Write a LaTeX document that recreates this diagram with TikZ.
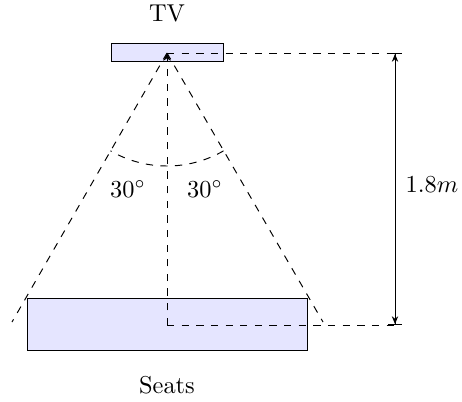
\documentclass[tikz,border=0pt]{standalone}
\usetikzlibrary{arrows.meta}
\begin{document}
\begin{tikzpicture}[x=0.41pt,y=-0.41pt,
  box/.style={draw, fill=blue!10, inner sep=0pt},
  guide/.style={dashed},
  lbl/.style={inner sep=0pt}]
\useasboundingbox (0,0) rectangle (462,401);
\node[box, minimum width=46.3pt, minimum height=7pt] (tv) at (167.5,52.5) {};
\coordinate (apex) at (167,53);
\coordinate (foot) at (167,325);
\coordinate (leftend) at (12,322);
\coordinate (rightend) at (323,322);
\coordinate (topend) at (398,53);
\coordinate (botend) at (398,325);
\coordinate (dimtop) at (395,53);
\coordinate (dimbot) at (395,325);
\draw[guide] (apex) -- (leftend);
\draw[guide] (apex) -- (rightend);
\draw[guide] (apex) -- (topend);
\draw[guide] (apex) ++(-60:46.33pt) arc[start angle=-60, end angle=-120, radius=46.33pt];
\node[box, minimum width=114.8pt, minimum height=21.7pt] (seats) at (167,324.5) {};
\draw[guide, -{Stealth[length=3.2pt,width=3pt]}] (foot) -- (apex);
\draw[guide] (foot) -- (botend);
\draw[{Bar[width=5.7pt]Stealth[length=3.2pt,width=2.6pt]}-{Stealth[length=3.2pt,width=2.6pt]Bar[width=5.7pt]}] (dimtop) -- (dimbot);
\node[lbl] (a1) at (128,189) {$30^\circ$};
\node[lbl] (a2) at (205,189) {$30^\circ$};
\node[lbl] (h) at (432,185) {$1.8m$};
\node[lbl] (tvl) at (167,13.3) {TV};
\node[lbl] (sl) at (167,385) {Seats};
\end{tikzpicture}
\end{document}
